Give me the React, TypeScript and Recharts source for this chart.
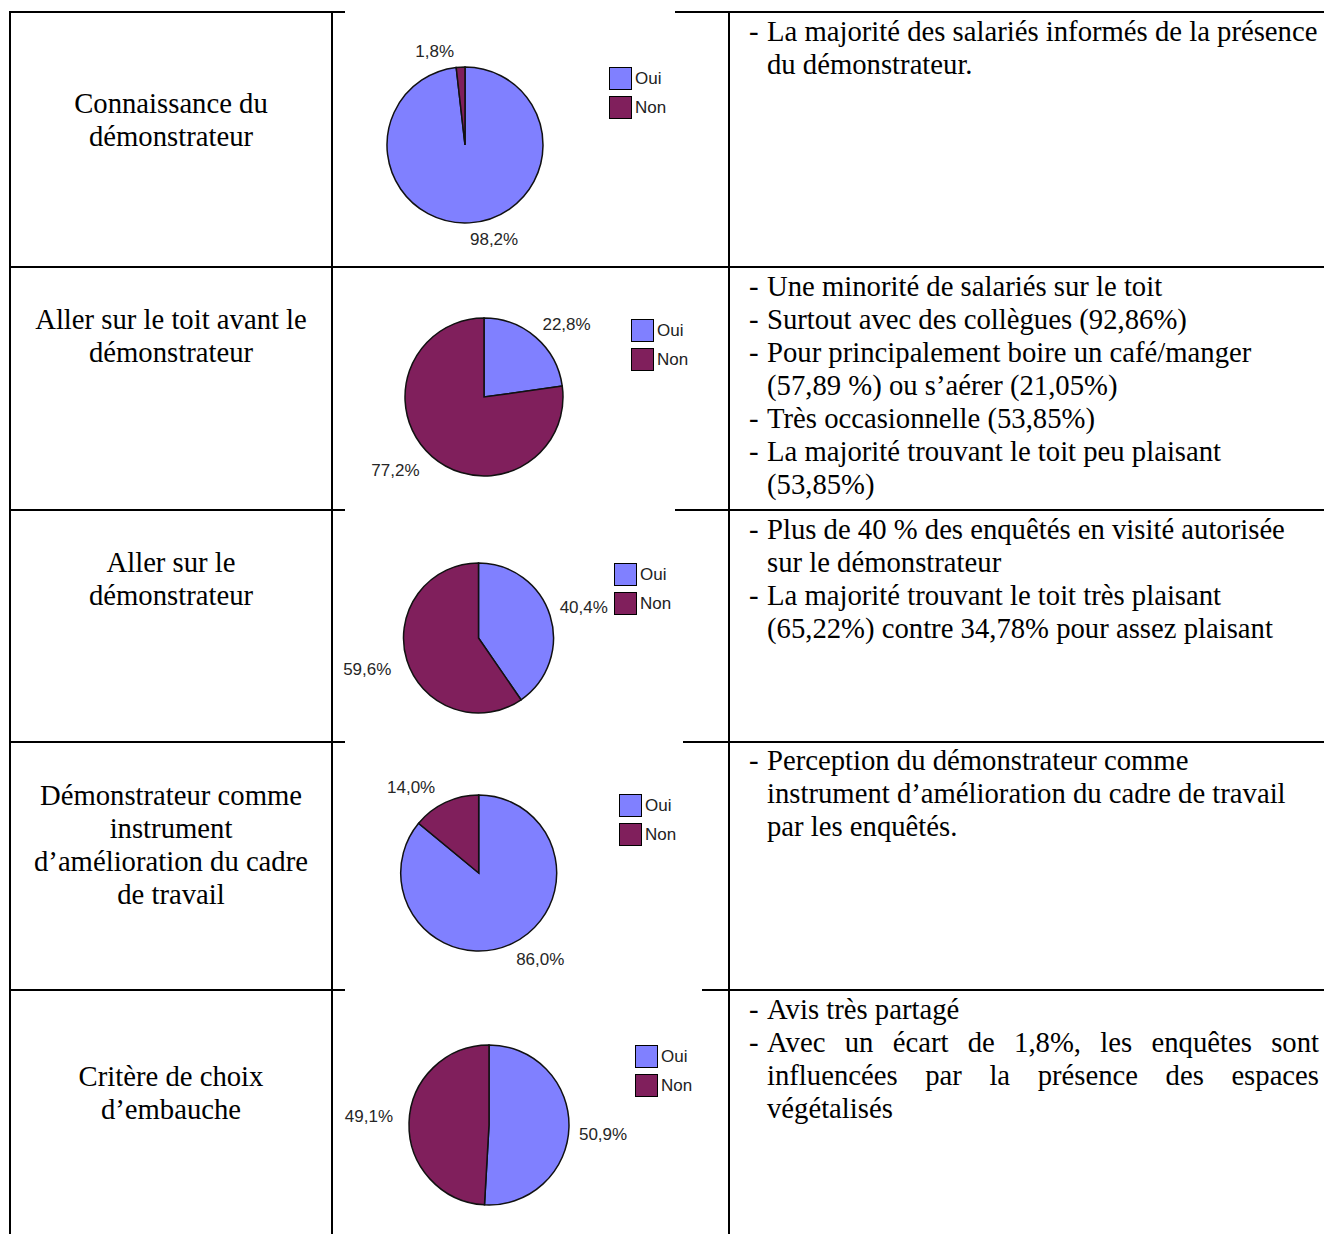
import React from "react";
import { PieChart, Pie, Cell, Legend } from "recharts";

// categories and colours shared by the five pies
const categories = ["Oui", "Non"];
const COLORS = ["#8080ff", "#801f5c"];

// series values (% Oui, % Non)
const connaissance = [98.2, 1.8];
const toitAvant = [22.8, 77.2];
const allerDemo = [40.4, 59.6];
const amelioration = [86.0, 14.0];
const embauche = [50.9, 49.1];

const rowTitles = [
  ["Connaissance du", "démonstrateur"],
  ["Aller sur le toit avant le", "démonstrateur"],
  ["Aller sur le", "démonstrateur"],
  ["Démonstrateur comme", "instrument", "d’amélioration du cadre", "de travail"],
  ["Critère de choix", "d’embauche"],
];

// "- " marks a bullet line, "=" marks a justified line
const rowNotes = [
  ["- La majorité des salariés informés de la présence", "du démonstrateur."],
  [
    "- Une minorité de salariés sur le toit",
    "- Surtout avec des collègues (92,86%)",
    "- Pour principalement boire un café/manger",
    "(57,89 %) ou s’aérer (21,05%)",
    "- Très occasionnelle (53,85%)",
    "- La majorité trouvant le toit peu plaisant",
    "(53,85%)",
  ],
  [
    "- Plus de 40 % des enquêtés en visité autorisée",
    "sur le démonstrateur",
    "- La majorité trouvant le toit très plaisant",
    "(65,22%) contre 34,78% pour assez plaisant",
  ],
  [
    "- Perception du démonstrateur comme",
    "instrument d’amélioration du cadre de travail",
    "par les enquêtés.",
  ],
  [
    "- Avis très partagé",
    "=- Avec un écart de 1,8%, les enquêtes sont",
    "=influencées par la présence des espaces",
    "végétalisés",
  ],
];

const series = [connaissance, toitAvant, allerDemo, amelioration, embauche];

// page layout (px); x/w = white picture area that hides part of the row border
const rowLines = [12, 267, 510, 742, 990];
const colLines = [10, 332, 729];
const titleTops = [87, 303, 546, 779, 1060];
const noteTops = [15, 270, 513, 744, 993];
const chartLeft = 334;
const pieLayout = [
  { x: 345, y: 9, w: 330, h: 250, cx: 465, cy: 145, r: 78, lx: 609, ly: 67 },
  { x: 345, y: 272, w: 330, h: 232, cx: 484, cy: 397, r: 79, lx: 631, ly: 319 },
  { x: 345, y: 506, w: 330, h: 230, cx: 478.5, cy: 638, r: 75, lx: 614, ly: 563 },
  { x: 345, y: 738, w: 338, h: 242, cx: 478.7, cy: 873, r: 78, lx: 619, ly: 794 },
  { x: 345, y: 986, w: 357, h: 248, cx: 489, cy: 1125, r: 80, lx: 635, ly: 1045 },
];

const SERIF = "'Liberation Serif', 'Times New Roman', serif";
const SANS = "'Liberation Sans', Arial, sans-serif";
const RAD = Math.PI / 180;

const fmt = (v: number) => v.toFixed(1).replace(".", ",") + "%";

function renderLabel(props: any) {
  const { cx, cy, midAngle, outerRadius, value } = props;
  const d = outerRadius + 10;
  const cos = Math.cos(midAngle * RAD);
  const sin = Math.sin(midAngle * RAD);
  const right = cos >= 0;
  const x = cx + d * cos + (right ? 0 : -6);
  const y = cy - d * sin;
  return (
    <text
      x={x}
      y={sin > 0 ? y : y + 12}
      textAnchor={right ? "start" : "end"}
      fill="#262626"
      fontFamily={SANS}
      fontSize={17}
    >
      {fmt(value)}
    </text>
  );
}

function LegendBox(props: any) {
  const payload = [...(props.payload ?? [])].sort(
    (a: any, b: any) => categories.indexOf(a.value) - categories.indexOf(b.value)
  );
  return (
    <div>
      {payload.map((entry: any) => (
        <div key={entry.value} style={{ display: "flex", alignItems: "center", height: 23, marginBottom: 6 }}>
          <span
            style={{
              display: "inline-block",
              width: 21,
              height: 21,
              border: "1px solid #000",
              background: COLORS[categories.indexOf(entry.value)] ?? entry.color,
            }}
          />
          <span style={{ marginLeft: 3, fontFamily: SANS, fontSize: 17, color: "#222", lineHeight: "23px" }}>
            {entry.value}
          </span>
        </div>
      ))}
    </div>
  );
}

function RowPie({ values, lay }: { values: number[]; lay: (typeof pieLayout)[number] }) {
  const data = categories.map((name, i) => ({ name, value: values[i] }));
  const w = lay.x + lay.w - chartLeft;
  return (
    <>
      <div style={{ position: "absolute", left: lay.x, top: lay.y, width: lay.w, height: lay.h, background: "#fff" }} />
      <div style={{ position: "absolute", left: chartLeft, top: lay.y, width: w, height: lay.h }}>
        <PieChart width={w} height={lay.h} margin={{ top: 0, right: 0, bottom: 0, left: 0 }}>
          <Pie
            data={data}
            dataKey="value"
            nameKey="name"
            cx={lay.cx - chartLeft}
            cy={lay.cy - lay.y}
            outerRadius={lay.r}
            startAngle={90}
            endAngle={-270}
            stroke="#111"
            strokeWidth={1.5}
            label={renderLabel}
            labelLine={false}
            isAnimationActive={false}
          >
            {data.map((d, i) => (
              <Cell key={d.name} fill={COLORS[i]} stroke="#111" strokeWidth={1.5} />
            ))}
          </Pie>
          <Legend
            layout="vertical"
            align="right"
            verticalAlign="top"
            itemSorter={null as any}
            content={(p: any) => <LegendBox {...p} />}
            wrapperStyle={{ left: lay.lx - chartLeft, top: lay.ly - lay.y, right: "auto", bottom: "auto", width: 70 }}
          />
        </PieChart>
      </div>
    </>
  );
}

function NoteLines({ lines, top }: { lines: string[]; top: number }) {
  return (
    <div style={{ position: "absolute", left: 767, top, width: 552, fontFamily: SERIF, fontSize: 28.7, lineHeight: "33px", color: "#000" }}>
      {lines.map((raw, i) => {
        const justify = raw.startsWith("=");
        const s = justify ? raw.slice(1) : raw;
        const bullet = s.startsWith("- ");
        const text = bullet ? s.slice(2) : s;
        return (
          <div key={i} style={{ position: "relative", whiteSpace: "nowrap", textAlign: justify ? "justify" : "left", textAlignLast: justify ? "justify" : "auto" } as any}>
            {bullet && <span style={{ position: "absolute", left: -18 }}>-</span>}
            {justify ? <span style={{ whiteSpace: "normal", display: "block" }}>{text}</span> : text}
          </div>
        );
      })}
    </div>
  );
}

export default function App() {
  return (
    <div style={{ position: "absolute", left: 0, top: 0, width: 1324, height: 1234, overflow: "hidden", background: "#fff" }}>
      {rowLines.map((y) => (
        <div key={"h" + y} style={{ position: "absolute", left: colLines[0] - 1, top: y - 1, width: 1324, height: 2, background: "#000" }} />
      ))}
      {colLines.map((x) => (
        <div key={"v" + x} style={{ position: "absolute", left: x - 1, top: rowLines[0] - 1, width: 2, height: 1234, background: "#000" }} />
      ))}

      {rowTitles.map((lines, i) => (
        <div
          key={"t" + i}
          style={{
            position: "absolute",
            left: colLines[0] + 1,
            top: titleTops[i],
            width: colLines[1] - colLines[0] - 2,
            textAlign: "center",
            fontFamily: SERIF,
            fontSize: 28.7,
            lineHeight: "33px",
            color: "#000",
          }}
        >
          {lines.map((l) => (
            <div key={l}>{l}</div>
          ))}
        </div>
      ))}

      {series.map((values, i) => (
        <RowPie key={"p" + i} values={values} lay={pieLayout[i]} />
      ))}

      {rowNotes.map((lines, i) => (
        <NoteLines key={"n" + i} lines={lines} top={noteTops[i]} />
      ))}
    </div>
  );
}
